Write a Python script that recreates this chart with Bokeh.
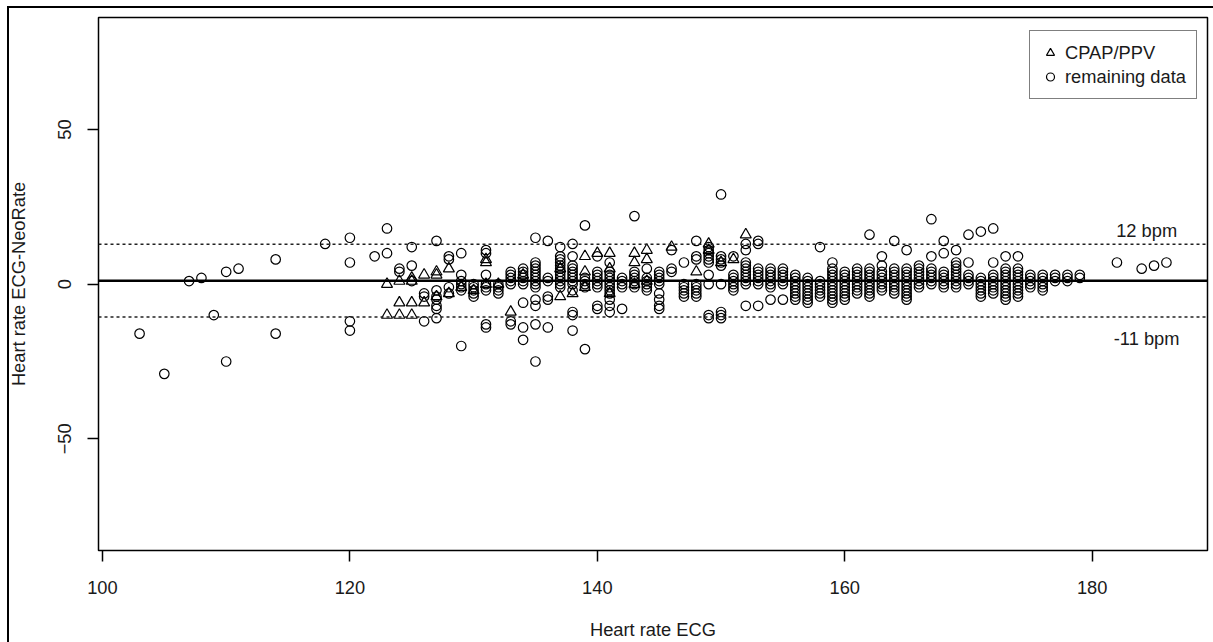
from bokeh.plotting import figure
from bokeh.models import (Range1d, FixedTicker, Span, Legend, LegendItem,
                          InlineStyleSheet, ColumnDataSource)
from bokeh.core.properties import value
from bokeh.embed import file_html
from bokeh.resources import INLINE

# ---- data -------------------------------------------------------------
# "remaining data" (circles): ECG heart rate per column and the differences in it
circle_hr = [103, 105, 107, 108, 109, 110, 111, 114, 118, 120, 122, 123, 124, 125,
             126, 127, 128, 129, 130, 131, 132, 133, 134, 135, 136, 137, 138, 139,
             140, 141, 142, 143, 144, 145, 146, 147, 148, 149, 150, 151, 152, 153,
             154, 155, 156, 157, 158, 159, 160, 161, 162, 163, 164, 165, 166, 167,
             168, 169, 170, 171, 172, 173, 174, 175, 176, 177, 178, 179, 182, 184,
             185, 186]
circle_diff = [
    [-16], [-29], [1], [2], [-10], [4, -25], [5], [8, -16], [13], [15, 7, -12, -15],
    [9], [18, 10], [5, 4], [12, 6, 1],
    [-3, -4, -12], [14, -2, -4, -5, -7, -8, -11], [9, 8, -1, -3],
    [10, 3, 1, 0, -1, -2, -20], [0, -1, -2, -3, -4],
    [11, 10, 3, 0, -1, -2, -13, -14], [0, -1, -2, -3],
    [4, 3, 2, 1, 0, -12, -13], [5, 4, 3, 2, 1, 0, -6, -14, -18],
    [15, 7, 6, 5, 4, 3, 2, 1, 0, -1, -5, -7, -13, -25],
    [14, 2, 1, -4, -5, -14], [12, 9, 8, 7, 6, 5, 4, 3, 2, 1, 0, -1],
    [13, 9, 6, 5, 4, 3, 2, 1, 0, -2, -9, -10, -15], [19, 2, 1, 0, -1, -21],
    [9, 4, 3, 2, 1, 0, -1, -7, -8], [7, 4, 3, 2, 1, 0, -1, -2, -3, -5, -7, -9],
    [2, 1, 0, -1, -8], [22, 4, 3, 2, 1, 0, -1], [5, 2, 1, 0, -1, -2],
    [4, 3, 2, 1, 0, -3, -5, -7, -8], [11, 5, 4], [7, 0, -1, -2, -3, -4],
    [14, 9, 8, 0, -1, -2, -3, -4], [12, 11, 10, 9, 8, 7, 3, 0, -10, -11],
    [29, 9, 8, 7, 6, 0, -9, -10, -11], [9, 3, 2, 1, 0, -1, -2],
    [13, 11, 7, 6, 5, 4, 3, 2, 1, 0, -7], [14, 13, 5, 4, 3, 2, 1, 0, -7],
    [5, 4, 3, 2, 1, 0, -1, -5], [5, 4, 3, 2, 1, 0, -5],
    [3, 2, 1, 0, -1, -2, -3, -4, -5], [2, 1, 0, -1, -2, -3, -4, -5, -6],
    [12, 1, 0, -1, -2, -3, -4], [7, 5, 4, 3, 2, 1, 0, -1, -2, -3, -4, -5, -6],
    [4, 3, 2, 1, 0, -1, -2, -3, -4, -5], [5, 4, 3, 2, 1, 0, -1, -2, -3],
    [16, 5, 4, 3, 2, 1, 0, -1, -2, -3, -4], [9, 6, 4, 3, 2, 1, 0, -1, -2],
    [14, 5, 4, 3, 2, 1, 0, -1, -2, -3], [11, 5, 4, 3, 2, 1, 0, -1, -2, -3, -4, -5],
    [6, 5, 4, 3, 2, 1, 0, -1], [21, 9, 5, 4, 3, 2, 1, 0],
    [14, 10, 4, 3, 2, 1, 0, -1], [11, 7, 6, 5, 4, 3, 2, 1, 0, -1],
    [16, 7, 3, 2, 1, 0], [17, 2, 1, 0, -1, -2, -3, -4],
    [18, 7, 3, 2, 1, 0, -1, -2, -3], [9, 5, 4, 3, 2, 1, 0, -1, -2, -3, -4, -5],
    [9, 5, 4, 3, 2, 1, 0, -1, -2, -3, -4], [3, 2, 1, 0, -1], [3, 2, 1, 0, -1, -2],
    [3, 2, 1], [3, 2, 1], [3, 2], [7], [5], [6], [7]]

# CPAP/PPV (triangles)
tri_hr = [123, 124, 125, 126, 127, 128, 129, 130, 131, 132, 133, 134, 137, 138,
          139, 140, 141, 143, 144, 146, 148, 149, 150, 151, 152]
tri_diff = [[0, -10], [1, -6, -10], [2, 1, -6, -10], [3, -6], [4, 3, -4], [5, -3],
            [-1], [-2], [8, 7, 0], [0], [-9], [3], [5, -4], [-3], [9, 4, -1], [10],
            [10, 5, -3], [10, 7, 0], [11, 8, 1], [12], [4], [13, 11], [7], [8], [16]]

mean_diff = 1.1
limits_diff = [12.9, -10.6]
limit_texts = ["12 bpm", "-11 bpm"]
limit_text_x = [184.4, 184.4]
limit_text_y = [17.3, -17.5]

x_ticks = [100, 120, 140, 160, 180]
y_ticks = [-50, 0, 50]
legend_labels = ["CPAP/PPV", "remaining data"]

# ---- build sources -------------------------------------------------------
cx, cy = [], []
for xv, ys in zip(circle_hr, circle_diff):
    for yv in ys:
        cx.append(xv); cy.append(yv)
tx, ty = [], []
for xv, ys in zip(tri_hr, tri_diff):
    for yv in ys:
        tx.append(xv); ty.append(yv)

FONT = "Liberation Sans"
FS = "18.3px"
TXT = "#1a1a1a"

# outer frame of the picture (only its left and top edges are inside the window)
frame_css = InlineStyleSheet(css="""
:host { position: relative; }
:host::after {
  content: ""; position: absolute; left: 7px; top: 6px; right: 0px; bottom: 0px;
  border-left: 2px solid #000; border-top: 2px solid #000; pointer-events: none;
}
""")

p = figure(width=1213, height=642, output_backend="svg", toolbar_location=None,
           x_range=Range1d(99.68, 189.32), y_range=Range1d(-86.1, 86.2),
           min_border_left=98, min_border_right=6, min_border_top=17,
           min_border_bottom=91, stylesheets=[frame_css])
p.grid.visible = False
p.outline_line_color = "black"
p.outline_line_width = 1.5
p.background_fill_color = "white"
p.border_fill_color = "white"

for ax in (p.xaxis[0], p.yaxis[0]):
    ax.axis_line_color = None
    ax.major_tick_out = 11
    ax.major_tick_in = 0
    ax.minor_tick_line_color = None
    ax.major_tick_line_color = "black"
    ax.major_tick_line_width = 1.5
    ax.major_label_text_font = FONT
    ax.major_label_text_font_size = FS
    ax.major_label_text_color = TXT
    ax.axis_label_text_font = FONT
    ax.axis_label_text_font_size = FS
    ax.axis_label_text_font_style = "normal"
    ax.axis_label_text_color = TXT

p.xaxis.ticker = FixedTicker(ticks=x_ticks)
p.yaxis.ticker = FixedTicker(ticks=y_ticks)
p.xaxis.axis_label = "Heart rate ECG"
p.yaxis.axis_label = "Heart rate ECG-NeoRate"
p.yaxis.major_label_orientation = "parallel"
p.xaxis.major_label_standoff = 19
p.yaxis.major_label_standoff = 16
p.xaxis.axis_label_standoff = 22
p.yaxis.axis_label_standoff = 27

# reference lines
p.add_layout(Span(location=mean_diff, dimension="width", line_color="black",
                  line_width=2.5))
for lv in limits_diff:
    p.add_layout(Span(location=lv, dimension="width", line_color="#222222",
                      line_width=1.5, line_dash="3 3"))

circ = p.scatter(cx, cy, marker="circle", size=9.5, fill_color=None,
                 line_color="black", line_width=1.2)
tri = p.scatter(tx, ty, marker="triangle", size=11, fill_color=None,
                line_color="black", line_width=1.2)

src = ColumnDataSource(dict(x=limit_text_x, y=limit_text_y, t=limit_texts))
p.text(x="x", y="y", text="t", source=src, text_font=value(FONT),
       text_font_size=FS, text_align="center", text_baseline="middle",
       text_color=TXT)

legend = Legend(items=[LegendItem(label=legend_labels[0], renderers=[tri]),
                       LegendItem(label=legend_labels[1], renderers=[circ])],
                location=(931, 451))
legend.border_line_color = "black"
legend.border_line_width = 1.5
legend.background_fill_alpha = 1
legend.label_text_font = FONT
legend.label_text_font_size = FS
legend.label_text_color = TXT
legend.glyph_width = 20
legend.glyph_height = 23
legend.label_height = 23
legend.label_standoff = 5
legend.spacing = 1
legend.padding = 10
legend.margin = 0
p.add_layout(legend, "center")

open("out.html", "w").write(file_html(p, INLINE))
